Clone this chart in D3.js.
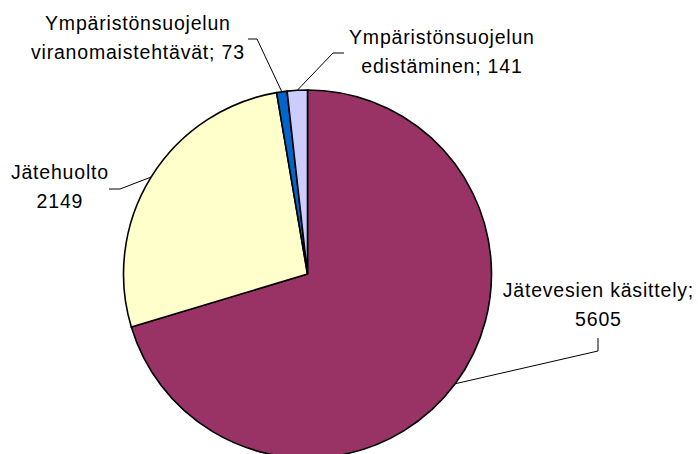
<!DOCTYPE html>
<html><head><meta charset="utf-8">
<script src="https://cdn.jsdelivr.net/npm/d3@7"></script>
<style>
html,body{margin:0;padding:0;background:#fff;}
svg{display:block;}
text{font-family:"Liberation Sans",Arial,sans-serif;font-size:19.5px;fill:#000;letter-spacing:0.8px;}
</style></head><body>
<svg id="chart" width="698" height="454"></svg>
<script>
// Data
const categories = ["Jätevesien käsittely", "Jätehuolto", "Ympäristönsuojelun viranomaistehtävät", "Ympäristönsuojelun edistäminen"];
const values = [5605, 2149, 73, 141];
const colors = ["#993366", "#FFFFCC", "#0066CC", "#CCCCFF"];
const labelLines = [
  ["Jätevesien käsittely;", "5605"],
  ["Jätehuolto", "2149"],
  ["Ympäristönsuojelun", "viranomaistehtävät; 73"],
  ["Ympäristönsuojelun", "edistäminen; 141"]
];

// Layout
const W = 698, H = 454;
const cx = 307.5, cy = 274, R = 184;
const labelPos = [ // [x center, first baseline]
  {x: 598.4, y: 297, elbow: [[598, 338], [598, 351]]},
  {x: 59.9, y: 179, elbow: [[109, 189], [120, 189]]},
  {x: 137.9, y: 30, elbow: [[248, 39], [257, 39]]},
  {x: 441.9, y: 44, elbow: [[344, 53], [333, 53]]}
];
const lineH = 29;

const svg = d3.select("#chart");
const g = svg.append("g").attr("transform", `translate(${cx},${cy})`);

const pie = d3.pie().sort(null).value(d => d)(values);
const arc = d3.arc().innerRadius(0).outerRadius(R);

g.selectAll("path.slice").data(pie).enter().append("path")
  .attr("class", "slice")
  .attr("d", arc)
  .attr("fill", (d, i) => colors[i])
  .attr("stroke", "#000")
  .attr("stroke-width", 1.6)
  .attr("stroke-linejoin", "miter");

// Leader lines
const edgeArc = d3.arc().innerRadius(R).outerRadius(R);
pie.forEach((d, i) => {
  const c = edgeArc.centroid(d);
  const p = labelPos[i];
  const pts = [p.elbow[0], p.elbow[1], [c[0] + cx, c[1] + cy]];
  svg.append("path")
    .attr("d", d3.line()(pts))
    .attr("fill", "none")
    .attr("stroke", "#000")
    .attr("stroke-width", 1);
});

// Labels
labelLines.forEach((lines, i) => {
  const p = labelPos[i];
  const t = svg.append("text").attr("text-anchor", "middle");
  lines.forEach((ln, j) => {
    t.append("tspan").attr("x", p.x).attr("y", p.y + j * lineH).text(ln);
  });
});
</script>
</body></html>
